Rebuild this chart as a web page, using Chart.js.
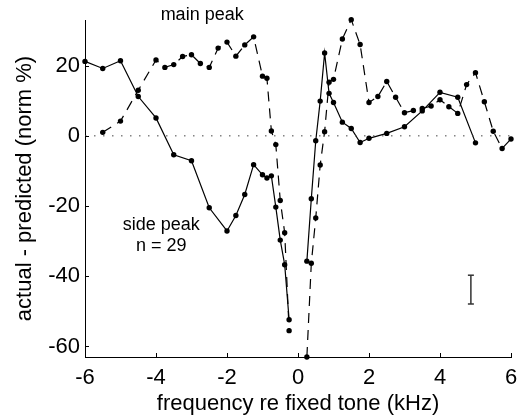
<!DOCTYPE html>
<html>
<head>
<meta charset="utf-8">
<script src="https://cdn.jsdelivr.net/npm/chart.js@4/dist/chart.umd.min.js"></script>
<style>
  body { margin: 0; background: #fff; }
  #wrap { width: 517px; height: 417px; }
</style>
</head>
<body>
<div id="wrap"><canvas id="myChart" width="517" height="417"></canvas></div>
<script>
// side peak (solid line), null at 0 = fixed tone, no value
var sideX = [-6, -5.5, -5, -4.5, -4, -3.5, -3, -2.5, -2, -1.75, -1.5, -1.25, -1, -0.875, -0.75, -0.625, -0.5, -0.375, -0.25, 0,
             0.25, 0.375, 0.5, 0.625, 0.75, 0.875, 1, 1.25, 1.5, 1.75, 2, 2.5, 3, 3.5, 4, 4.5, 5];
var sideY = [21.2, 19.2, 21.4, 11.2, 5.1, -5.4, -7.1, -20.5, -27.1, -22.7, -16.7, -8.2, -11.1, -12, -11.4, -20.3, -29.7, -36.7, -52.4, null,
             -35.7, -17.9, -1.4, 9.9, 23.6, 12.1, 9.5, 3.9, 2.1, -1.9, -0.7, 0.7, 2.6, 7.1, 12.4, 11.0, -2.0];

// main peak (dashed line)
var mainX = [-5.5, -5, -4.5, -4, -3.75, -3.5, -3.25, -3, -2.75, -2.5, -2.25, -2, -1.75, -1.5, -1.25, -1, -0.875, -0.75, -0.625, -0.5, -0.375, -0.25, 0,
             0.25, 0.375, 0.5, 0.625, 0.75, 0.875, 1, 1.25, 1.5, 1.75, 2, 2.25, 2.5, 2.75, 3, 3.25, 3.5, 3.75, 4, 4.25, 4.5, 4.75, 5, 5.25, 5.5, 5.75, 6];
var mainY = [1.0, 4.2, 13.0, 21.6, 19.5, 20.3, 22.6, 23.1, 20.6, 19.5, 25.0, 26.7, 22.7, 25.9, 28.2, 17.0, 16.4, 1.4, -2.5, -18.4, -27.6, -55.5, null,
             -63, -36.3, -23.4, -8.3, 1.2, 15.3, 16.1, 27.6, 33.1, 26.0, 9.5, 11.2, 15.5, 11.0, 6.6, 7.2, 7.8, 8.5, 10.3, 8.3, 6.4, 14.6, 18.0, 9.7, 1.3, -3.6, -0.9];

// typical error bar
var errX = [4.87, 4.87];
var errY = [-39.7, -47.9];

var xTicks = [-6, -4, -2, 0, 2, 4, 6];
var yTicks = [-60, -40, -20, 0, 20];

var fontFamily = '"Liberation Sans", Arial, Helvetica, sans-serif';

function toPoints(xs, ys) {
    return xs.map(function (x, i) { return { x: x, y: ys[i] }; });
}

// text put inside the axes, in data units
var notes = [
    { text: 'main peak', x: -2.7, y: 34.4 },
    { text: 'side peak', x: -3.85, y: -25.4 },
    { text: 'n = 29', x: -3.85, y: -31.3 }
];

// inward tick marks, like the original plot
var tickMarks = {
    id: 'tickMarks',
    afterDraw: function (chart) {
        var c = chart.ctx, xs = chart.scales.x, ys = chart.scales.y, a = chart.chartArea;
        c.save();
        c.strokeStyle = '#000';
        c.lineWidth = 1;
        c.beginPath();
        xTicks.forEach(function (v) {
            var px = Math.round(xs.getPixelForValue(v)) + 0.5;
            c.moveTo(px, a.bottom);
            c.lineTo(px, a.bottom - 4);
        });
        yTicks.forEach(function (v) {
            var py = Math.round(ys.getPixelForValue(v)) + 0.5;
            c.moveTo(a.left, py);
            c.lineTo(a.left + 4, py);
        });
        c.stroke();

        c.fillStyle = '#000';
        c.font = '18px ' + fontFamily;
        c.textAlign = 'center';
        c.textBaseline = 'middle';
        notes.forEach(function (n) {
            c.fillText(n.text, xs.getPixelForValue(n.x), ys.getPixelForValue(n.y));
        });
        c.restore();
    }
};

var ctx = document.getElementById('myChart').getContext('2d');
var myChart = new Chart(ctx, {
    type: 'line',
    data: {
        datasets: [
            {
                // zero reference line
                data: toPoints([-6, 6], [0, 0]),
                borderColor: '#444',
                borderWidth: 1,
                borderDash: [1.5, 7.5],
                pointRadius: 0
            },
            {
                label: 'side peak',
                data: toPoints(sideX, sideY),
                borderColor: '#000',
                borderWidth: 1.2,
                pointRadius: 2.7,
                pointBackgroundColor: '#000',
                pointBorderWidth: 0,
                spanGaps: false,
                clip: false
            },
            {
                label: 'main peak',
                data: toPoints(mainX, mainY),
                borderColor: '#000',
                borderWidth: 1.2,
                borderDash: [10, 7],
                pointRadius: 2.7,
                pointBackgroundColor: '#000',
                pointBorderWidth: 0,
                spanGaps: false,
                clip: false
            },
            {
                label: 'error',
                data: toPoints(errX, errY),
                borderColor: '#333',
                borderWidth: 1.5,
                pointStyle: 'line',
                pointRadius: 3,
                pointBorderColor: '#333',
                pointBorderWidth: 1.5
            }
        ]
    },
    options: {
        responsive: false,
        animation: false,
        layout: { padding: { top: 20, right: 6, left: 0, bottom: 0 } },
        plugins: {
            legend: { display: false },
            tooltip: { enabled: false }
        },
        scales: {
            x: {
                type: 'linear',
                min: -6,
                max: 6,
                afterBuildTicks: function (s) { s.ticks = xTicks.map(function (v) { return { value: v }; }); },
                afterFit: function (s) { s.height = 60; s.paddingLeft = 0; s.paddingRight = 0; },
                grid: { display: false, drawTicks: false },
                border: { display: true, color: '#000', width: 1 },
                ticks: { color: '#000', padding: 8, font: { family: fontFamily, size: 22 }, maxRotation: 0 },
                title: {
                    display: true,
                    text: 'frequency re fixed tone (kHz)',
                    color: '#000',
                    font: { family: fontFamily, size: 22 },
                    padding: { top: 0, bottom: 0 }
                }
            },
            y: {
                min: -63,
                max: 33,
                afterBuildTicks: function (s) { s.ticks = yTicks.map(function (v) { return { value: v }; }); },
                afterFit: function (s) { s.width = 85; s.paddingTop = 0; s.paddingBottom = 0; },
                grid: { display: false, drawTicks: false },
                border: { display: true, color: '#000', width: 1 },
                ticks: { color: '#000', padding: 5, font: { family: fontFamily, size: 22 } },
                title: {
                    display: true,
                    text: 'actual - predicted (norm %)',
                    color: '#000',
                    font: { family: fontFamily, size: 22 },
                    padding: { top: 12, bottom: 0 }
                }
            }
        }
    },
    plugins: [tickMarks]
});
</script>
</body>
</html>
